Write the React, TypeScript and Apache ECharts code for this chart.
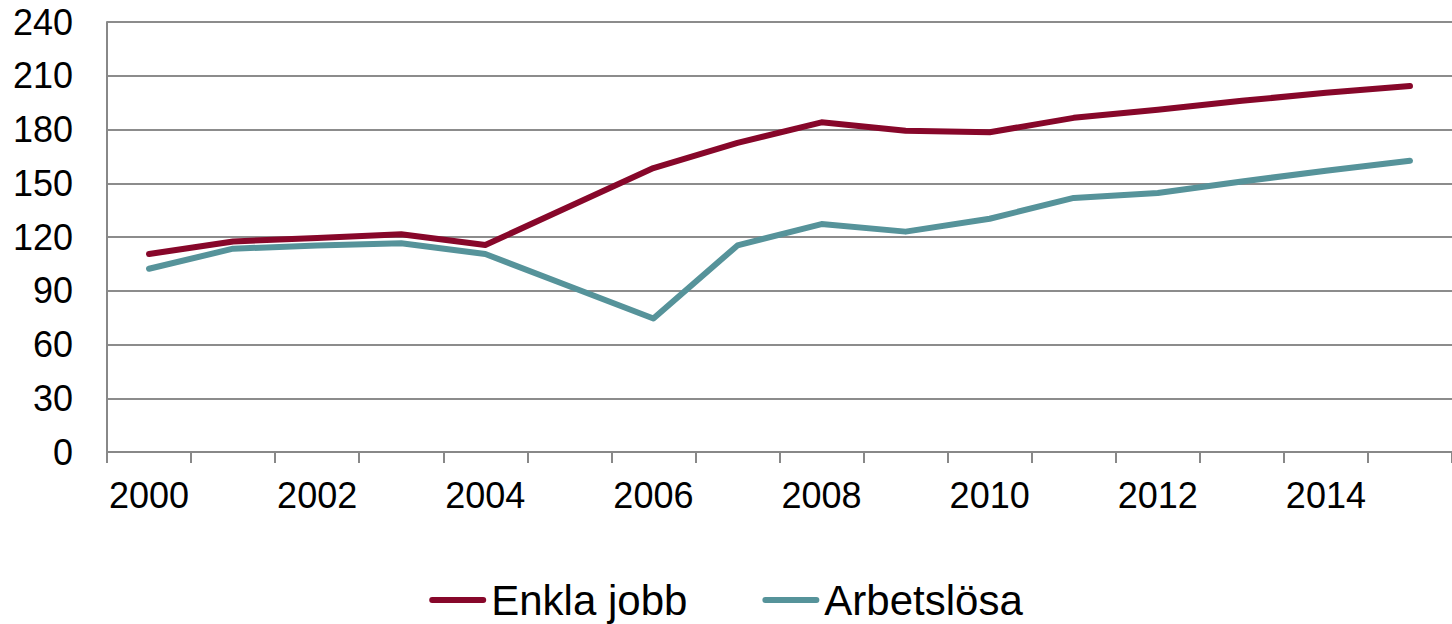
import React, { useEffect, useRef } from "react";
import * as echarts from "echarts";

const years = ["2000","2001","2002","2003","2004","2005","2006","2007","2008","2009","2010","2011","2012","2013","2014","2015"];
const enklaJobb = [110.5, 117.5, 119.5, 121.5, 115.5, 137, 158.5, 172.5, 184, 179.3, 178.5, 186.5, 191, 196, 200.5, 204.3];
const arbetslosa = [102.3, 113.5, 115.2, 116.5, 110.5, 92.5, 74.5, 115.3, 127.2, 123, 130.2, 141.8, 144.6, 151, 157, 162.6];
const yTicks = { min: 0, max: 240, interval: 30 };

const FONT = "'Liberation Sans', Arial, sans-serif";
const LEGEND_ICON = "path://M3,0 L54,0 A3,3 0 0,1 54,6 L3,6 A3,3 0 0,1 3,0 Z";

export default function App() {
  const ref = useRef<HTMLDivElement>(null);
  useEffect(() => {
    if (!ref.current) return;
    const chart = echarts.init(ref.current, null, { renderer: "svg" });
    chart.setOption({
      animation: false,
      textStyle: { fontFamily: FONT },
      grid: { left: 107, right: 0, top: 22, bottom: 172, containLabel: false },
      legend: {
        left: "center",
        top: 579,
        padding: 0,
        itemWidth: 57,
        itemHeight: 6,
        itemGap: 75,
        icon: LEGEND_ICON,
        textStyle: { fontSize: 42, color: "#000", fontFamily: FONT },
        data: ["Enkla jobb", "Arbetslösa"],
      },
      xAxis: {
        type: "category",
        data: years,
        boundaryGap: true,
        axisLine: { show: true, lineStyle: { color: "#888", width: 2 } },
        axisTick: { show: true, interval: 0, length: 11, lineStyle: { color: "#888", width: 2 } },
        axisLabel: { interval: 1, fontSize: 36, color: "#000", margin: 25, fontFamily: FONT },
        splitLine: { show: false },
      },
      yAxis: {
        type: "value",
        min: yTicks.min,
        max: yTicks.max,
        interval: yTicks.interval,
        axisLine: { show: true, lineStyle: { color: "#888", width: 2 } },
        axisTick: { show: false },
        axisLabel: { fontSize: 36, color: "#000", margin: 34, fontFamily: FONT },
        splitLine: { show: true, lineStyle: { color: "#8c8c8c", width: 2 } },
      },
      series: [
        {
          name: "Enkla jobb",
          type: "line",
          data: enklaJobb,
          symbol: "none",
          color: "#87072A",
          itemStyle: { color: "#87072A" },
          lineStyle: { width: 6, color: "#87072A", cap: "round", join: "round" },
        },
        {
          name: "Arbetslösa",
          type: "line",
          data: arbetslosa,
          symbol: "none",
          color: "#56939A",
          itemStyle: { color: "#56939A" },
          lineStyle: { width: 6, color: "#56939A", cap: "round", join: "round" },
        },
      ],
    });
    return () => chart.dispose();
  }, []);
  return (
    <div
      ref={ref}
      style={{ position: "fixed", left: 0, top: 0, width: 1452, height: 624, background: "#fff" }}
    />
  );
}
